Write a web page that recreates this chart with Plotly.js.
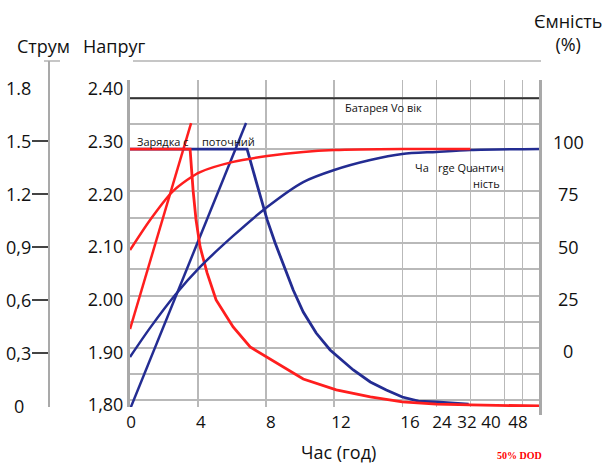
<!DOCTYPE html>
<html>
<head>
<meta charset="utf-8">
<script src="https://cdn.plot.ly/plotly-3.0.1.min.js"></script>
<style>html,body{margin:0;padding:0;background:#fff;}#chart{width:606px;height:464px;}</style>
</head>
<body>
<div id="chart"></div>
<script>
// ---------- data ----------
// x tick labels (hours), the axis is compressed after 16 h
const xTickLabels = ['0','4','8','12','16','24','32','40','48'];
const gridHours = [4, 8, 12, 16, 24, 32, 40, 48];

// voltage axis labels
const voltTickVals = [1.80, 1.90, 2.00, 2.10, 2.20, 2.30, 2.40];
const voltTickText = ['1,80','1.90','2.00','2.10','2.20','2.30','2.40'];
// current axis labels
const currTickVals = [1.8, 1.5, 1.2, 0.9, 0.6, 0.3, 0];
const currTickText = ['1.8','1.5','1.2','0,9','0,6','0,3','0'];
// capacity axis labels
const capTickVals = [100, 75, 50, 25, 0];

// battery voltage (black)
const batteryH = [0, 56];
const batteryV = [2.382, 2.382];

// charge voltage (rising straight lines)
const redVoltH = [0, 3.59];
const redVolt  = [1.944, 2.335];
const blueVoltH = [0, 6.82];
const blueVolt  = [1.792, 2.335];

// charge current
const redCurrH = [0, 3.53, 3.71, 3.88, 4.12, 4.53, 5.06, 6.06, 7.06, 8.06, 9.0, 10.18, 12.12, 14.12, 16, 24, 32, 56];
const redCurr  = [1.454, 1.454, 1.217, 1.053, 0.900, 0.753, 0.600, 0.447, 0.334, 0.277, 0.221, 0.153, 0.091, 0.051, 0.023, 0.011, 0.006, 0];
const blueCurrH = [0, 6.88, 7.47, 8.06, 8.53, 9.0, 9.59, 10.18, 10.94, 11.76, 13.12, 14.12, 15.06, 16, 19.8, 24, 31.6];
const blueCurr  = [1.454, 1.454, 1.251, 1.053, 0.922, 0.809, 0.656, 0.532, 0.413, 0.317, 0.204, 0.136, 0.091, 0.051, 0.028, 0.023, 0.011];

// charge quantity (%)
const redQtyH = [0, 1.18, 2.47, 3.35, 4.12, 6.06, 8.06, 10.18, 12, 16, 24, 32];
const redQty  = [51.4, 65.9, 79.3, 85.1, 88.9, 93.8, 96.6, 98.6, 99.5, 100, 100, 100];
const blueQtyH = [0, 1.18, 2.65, 4.12, 6.06, 8.06, 10.18, 12, 14.12, 16, 24, 32, 56];
const blueQty  = [0, 14, 29.8, 43.3, 58.2, 72.1, 84.1, 89.9, 94.7, 97.6, 98.6, 99.5, 100];

// ---------- scale of the compressed time axis ----------
function pos(h) {
  if (h <= 16) return h;
  if (h <= 40) return 16 + (h - 16) / 4;
  return 22 + (h - 40) * (1.076 / 8);
}
const W = 606, H = 464;
const X = px => px / W;
const Y = py => 1 - py / H;

const RED = '#ff1e1e', BLUE = '#232c92';
const labelPos = [0.06, 4.17, 8.28, 12.4, 16.45, 18.33, 19.8, 21.21, 22.8]; // label offsets (layout)
const gridV = [2.3825, 2.3332, 2.2858, 2.2061, 2.1548, 2.1074, 2.0581, 2.0068, 1.9575, 1.9082, 1.8588, 1.8095];

function line(h, v, color, yaxis, width, shape) {
  return { x: h.map(pos), y: v, mode: 'lines', yaxis: yaxis, xaxis: 'x',
    line: { color: color, width: width || 2.5, shape: shape || 'linear', smoothing: 0.8 },
    hoverinfo: 'skip', showlegend: false };
}

const traces = [
  line(batteryH, batteryV, '#333333', 'y', 2),
  line(blueVoltH, blueVolt, BLUE, 'y', 2.5),
  line(redVoltH, redVolt, RED, 'y', 2.5),
  { x: [null], y: [null], xaxis: 'x2', yaxis: 'y', showlegend: false, hoverinfo: 'skip' },
  { x: [null], y: [null], xaxis: 'x', yaxis: 'y2', showlegend: false, hoverinfo: 'skip' },
  line(blueCurrH, blueCurr, BLUE, 'y3', 2.8),
  line(redCurrH, redCurr, RED, 'y3', 2.8),
  line(blueQtyH, blueQty, BLUE, 'y4', 2.5, 'spline'),
  line(redQtyH, redQty, RED, 'y4', 2.5, 'spline')
];

const base = { family: 'Open Sans, Noto Sans, sans-serif', color: '#111' };
const annotations = [
  { text: 'Струм', x: X(43), y: Y(46), font: Object.assign({ size: 18 }, base) },
  { text: 'Напруг', x: X(114), y: Y(46), font: Object.assign({ size: 18 }, base) },
  { text: 'Ємність<br>(%)', x: X(568), y: Y(33), font: Object.assign({ size: 18 }, base) },
  { text: 'Час (год)', x: X(338), y: Y(452), font: Object.assign({ size: 18 }, base) },
  { text: '<b>50% DOD</b>', x: X(519), y: Y(455), font: { family: 'Liberation Serif, serif', size: 10, color: '#ff0000' } },
  { text: 'Батарея Vo вік', x: X(343), y: Y(107), xanchor: 'left', font: Object.assign({ size: 11 }, base) },
  { text: 'Зарядка с', x: X(135), y: Y(141), xanchor: 'left', font: Object.assign({ size: 11 }, base) },
  { text: 'поточний', x: X(200), y: Y(141), xanchor: 'left', font: Object.assign({ size: 11 }, base) },
  { text: 'Ча', x: X(413), y: Y(167), xanchor: 'left', font: Object.assign({ size: 11 }, base) },
  { text: 'rge Qu', x: X(436), y: Y(167), xanchor: 'left', font: Object.assign({ size: 11 }, base) },
  { text: 'антич', x: X(470), y: Y(167), xanchor: 'left', font: Object.assign({ size: 11 }, base) },
  { text: 'ність', x: X(471), y: Y(183), xanchor: 'left', font: Object.assign({ size: 11 }, base) }
].map(a => Object.assign({ xref: 'paper', yref: 'paper', showarrow: false, xanchor: 'center', yanchor: 'middle' }, a));

currTickVals.forEach((v, i) => {
  annotations.push({ text: currTickText[i], xref: 'paper', yref: 'y3', x: v === 0 ? X(19) : X(33), y: v,
    xanchor: v === 0 ? 'center' : 'right', yanchor: 'middle', showarrow: false,
    font: Object.assign({ size: 18 }, base) });
});
capTickVals.forEach(v => {
  annotations.push({ text: String(v), xref: 'paper', yref: 'y4', x: X(568), y: v, yshift: 6.5,
    xanchor: 'center', yanchor: 'middle', showarrow: false, font: Object.assign({ size: 18 }, base) });
});

const GRID = '#b9b9b9', EDGE = '#a9a9a9';
const shapes = [
  { type: 'line', xref: 'paper', yref: 'paper', x0: X(133), x1: X(541), y0: Y(61), y1: Y(61), line: { color: '#c6c6c6', width: 2 } },
  { type: 'line', xref: 'paper', yref: 'paper', x0: X(44), x1: X(60), y0: Y(61), y1: Y(61), line: { color: '#c6c6c6', width: 2 } },
  { type: 'line', xref: 'paper', yref: 'paper', x0: X(49), x1: X(49), y0: Y(61), y1: Y(81), line: { color: EDGE, width: 2 } },
  { type: 'line', xref: 'paper', yref: 'paper', x0: X(540.5), x1: X(540.5), y0: Y(415), y1: Y(80), line: { color: EDGE, width: 3 } }
];

const dom = [130 / W, 541 / W];
const ydom = [1 - 407 / H, 1 - 80 / H];
const layout = {
  width: W, height: H,
  margin: { l: 0, r: 0, t: 0, b: 0 },
  paper_bgcolor: '#ffffff', plot_bgcolor: 'rgba(0,0,0,0)',
  showlegend: false,
  font: Object.assign({ size: 18 }, base),
  xaxis: { domain: dom, range: [0, 24.15], anchor: 'y', tickvals: labelPos, ticktext: xTickLabels,
    showgrid: false, zeroline: false, showline: false, ticks: '', ticklabelstandoff: 3,
    tickfont: Object.assign({ size: 17 }, base) },
  xaxis2: { overlaying: 'x', anchor: 'y', range: [0, 24.15], tickvals: gridHours.map(pos),
    showticklabels: false, showgrid: true, gridcolor: GRID, gridwidth: 1.5, zeroline: false, showline: false, ticks: '' },
  yaxis: { domain: ydom, anchor: 'x', range: [1.7962, 2.4167], tickvals: voltTickVals, ticktext: voltTickText,
    showgrid: false, zeroline: false, showline: true, linecolor: EDGE, linewidth: 3, ticks: '',
    tickfont: Object.assign({ size: 18 }, base) },
  yaxis2: { overlaying: 'y', anchor: 'x', range: [1.7962, 2.4167], tickvals: gridV, showticklabels: false,
    showgrid: true, gridcolor: GRID, gridwidth: 1.5, zeroline: false, showline: false, ticks: '' },
  yaxis3: { overlaying: 'y', anchor: 'free', position: 49 / W, side: 'left', range: [-0.00566, 1.8449],
    tickvals: [0.3, 0.6, 0.9, 1.2, 1.5], showticklabels: false, ticks: 'outside', ticklen: 16, tickwidth: 1.5,
    tickcolor: '#444', showline: true, linecolor: EDGE, linewidth: 2, showgrid: false, zeroline: false },
  yaxis4: { overlaying: 'y', anchor: 'x', side: 'right', range: [-24.04, 133.17], showticklabels: false,
    showgrid: false, zeroline: false, showline: false, ticks: '' },
  annotations: annotations,
  shapes: shapes
};

Plotly.newPlot('chart', traces, layout, { staticPlot: true, displayModeBar: false });
</script>
</body>
</html>
